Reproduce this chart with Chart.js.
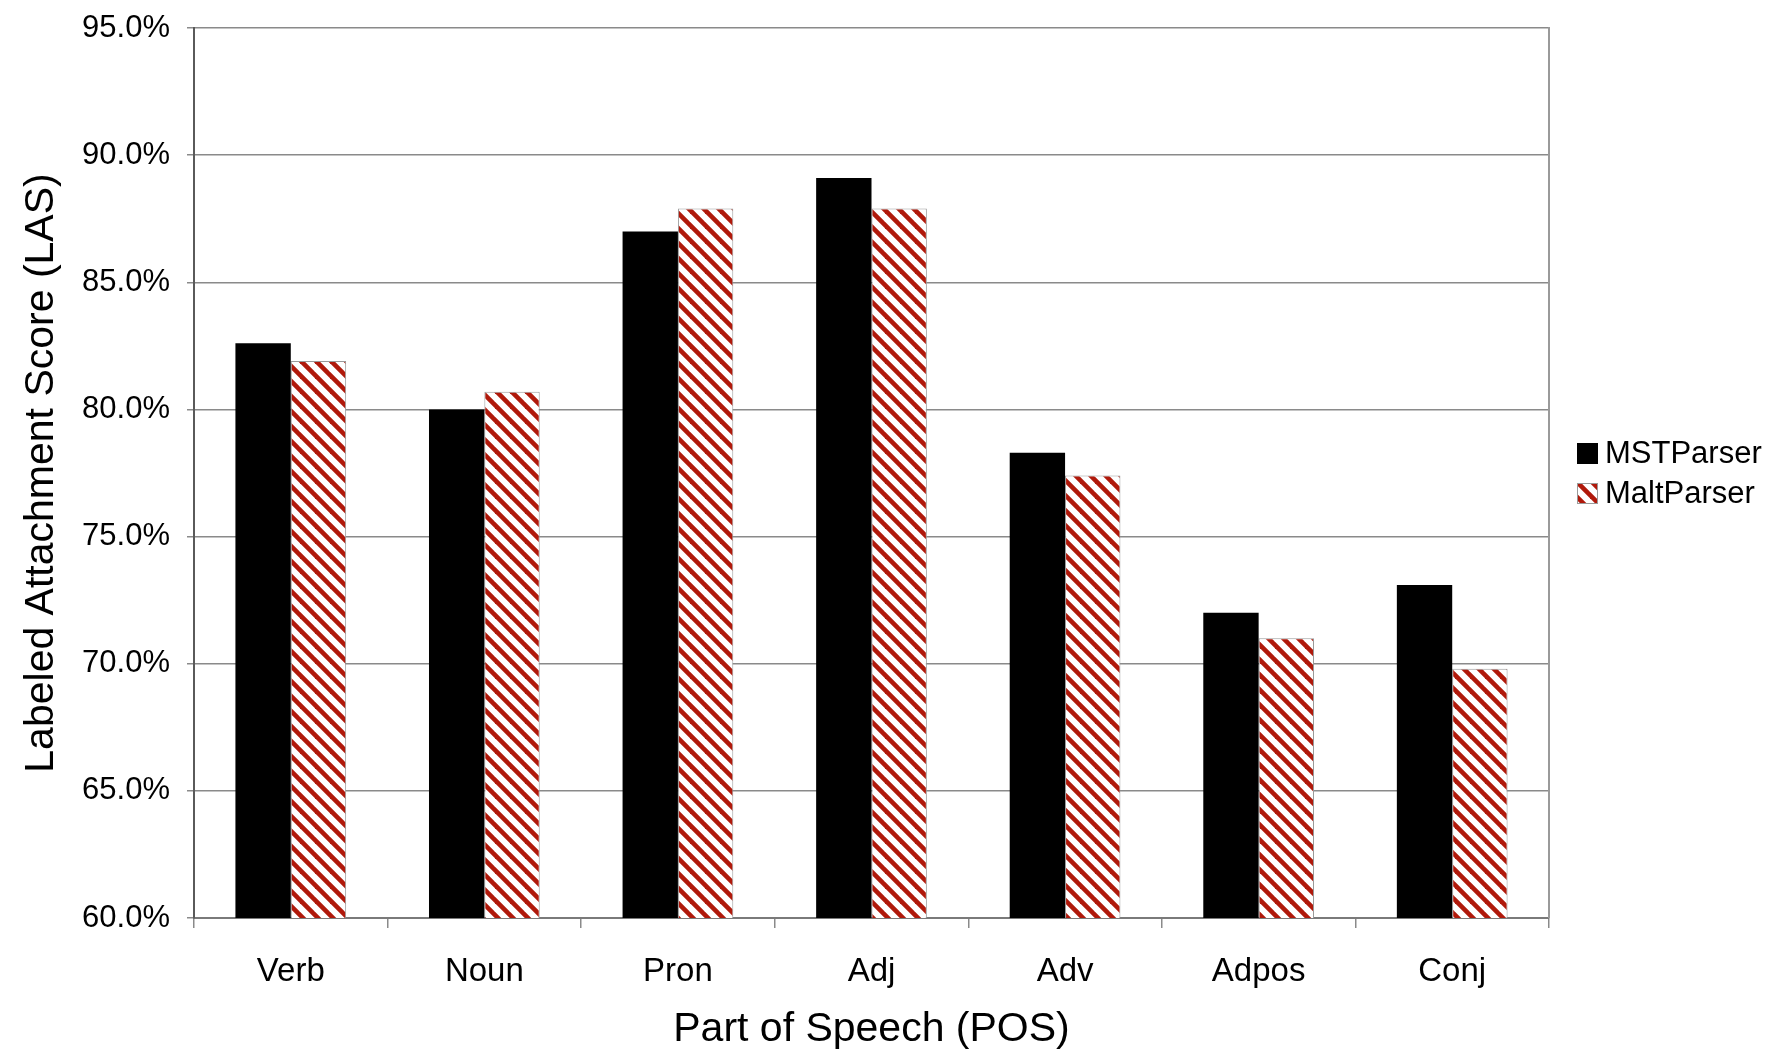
<!DOCTYPE html>
<html><head><meta charset="utf-8">
<script src="https://cdn.jsdelivr.net/npm/chart.js@4/dist/chart.umd.min.js"></script>
<style>html,body{margin:0;padding:0;background:#fff;overflow:hidden;}</style>
</head><body>
<canvas id="c" width="1777" height="1055" style="width:1777px;height:1055px;display:block;"></canvas>
<script>
const categories = ['Verb', 'Noun', 'Pron', 'Adj', 'Adv', 'Adpos', 'Conj'];
const seriesNames = ['MSTParser', 'MaltParser'];
const mstValues = [82.6, 80.0, 87.0, 89.1, 78.3, 72.0, 73.1];
const maltValues = [81.9, 80.7, 87.9, 87.9, 77.4, 71.0, 69.8];
const yMin = 60, yMax = 95, yStep = 5;
const xTitle = 'Part of Speech (POS)';
const yTitle = 'Labeled Attachment Score (LAS)';

const FONT = '"Liberation Sans", Arial, Helvetica, sans-serif';
Chart.defaults.font.family = FONT;
Chart.defaults.color = '#000';

function makeHatch() {
  const p = 15;
  const c = document.createElement('canvas');
  c.width = p; c.height = p;
  const g = c.getContext('2d');
  g.fillStyle = '#ffffff';
  g.fillRect(0, 0, p, p);
  g.strokeStyle = '#b0190b';
  g.lineWidth = 4.6;
  for (let k = -1; k <= 1; k++) {
    g.beginPath();
    g.moveTo(k * p - 3, -3);
    g.lineTo(k * p + p + 3, p + 3);
    g.stroke();
  }
  return g.createPattern(c, 'repeat');
}
const hatch = makeHatch();

const sideLegend = {
  id: 'sideLegend',
  afterDraw(chart) {
    const {ctx, chartArea} = chart;
    ctx.save();
    // right frame line
    ctx.strokeStyle = '#9a9a9a';
    ctx.lineWidth = 2;
    ctx.beginPath();
    ctx.moveTo(chartArea.right, chartArea.top - 1);
    ctx.lineTo(chartArea.right, chartArea.bottom);
    ctx.stroke();
    // legend
    const x0 = chartArea.right + 28;
    const cy = (chartArea.top + chartArea.bottom) / 2;
    ctx.font = '31px ' + FONT;
    ctx.textBaseline = 'middle';
    ctx.textAlign = 'left';
    chart.data.datasets.forEach((ds, i) => {
      const y = cy - 20 + i * 40;
      ctx.fillStyle = ds.backgroundColor;
      ctx.fillRect(x0, y - 10, 21, 21);
      if (ds.borderWidth) {
        ctx.strokeStyle = ds.borderColor;
        ctx.lineWidth = 1;
        ctx.strokeRect(x0 + 0.5, y - 9.5, 20, 20);
      }
      ctx.fillStyle = '#000';
      ctx.fillText(ds.label, x0 + 28, y + 1);
    });
    ctx.restore();
  }
};

new Chart(document.getElementById('c'), {
  type: 'bar',
  data: {
    labels: categories,
    datasets: [
      { label: seriesNames[0], data: mstValues, backgroundColor: '#000000', borderWidth: 0,
        categoryPercentage: 0.572, barPercentage: 1.0 },
      { label: seriesNames[1], data: maltValues, backgroundColor: hatch, borderColor: '#9a9a9a',
        borderWidth: 1, borderSkipped: 'bottom', categoryPercentage: 0.572, barPercentage: 1.0 }
    ]
  },
  options: {
    responsive: false,
    animation: false,
    devicePixelRatio: 1,
    layout: { padding: { top: 28, right: 228, bottom: 0, left: 0 } },
    plugins: { legend: { display: false }, tooltip: { enabled: false } },
    scales: {
      x: {
        grid: { display: true, drawOnChartArea: false, drawTicks: true, tickLength: 10, color: '#8a8a8a', lineWidth: 1.5, offset: true },
        border: { display: true, color: '#7a7a7a', width: 2 },
        ticks: { font: { size: 33 }, padding: 24, color: '#000', maxRotation: 0 },
        title: { display: true, text: xTitle, font: { size: 41 }, color: '#000', padding: { top: 0, bottom: 1 } },
        afterFit(scale) { scale.height = 137; scale.paddingLeft = 0; scale.paddingRight = 0; }
      },
      y: {
        min: yMin, max: yMax,
        grid: { color: '#8a8a8a', lineWidth: 1.5, tickLength: 7, drawTicks: true },
        border: { display: true, color: '#5a5a5a', width: 2 },
        ticks: { stepSize: yStep, font: { size: 31 }, padding: 17, color: '#000',
          callback: (v) => Number(v).toFixed(1) + '%' },
        title: { display: true, text: yTitle, font: { size: 41 }, color: '#000', padding: { top: 17, bottom: 0 } },
        afterFit(scale) { scale.width = 194; scale.paddingTop = 0; scale.paddingBottom = 0; }
      }
    }
  },
  plugins: [sideLegend]
});
</script>
</body></html>
